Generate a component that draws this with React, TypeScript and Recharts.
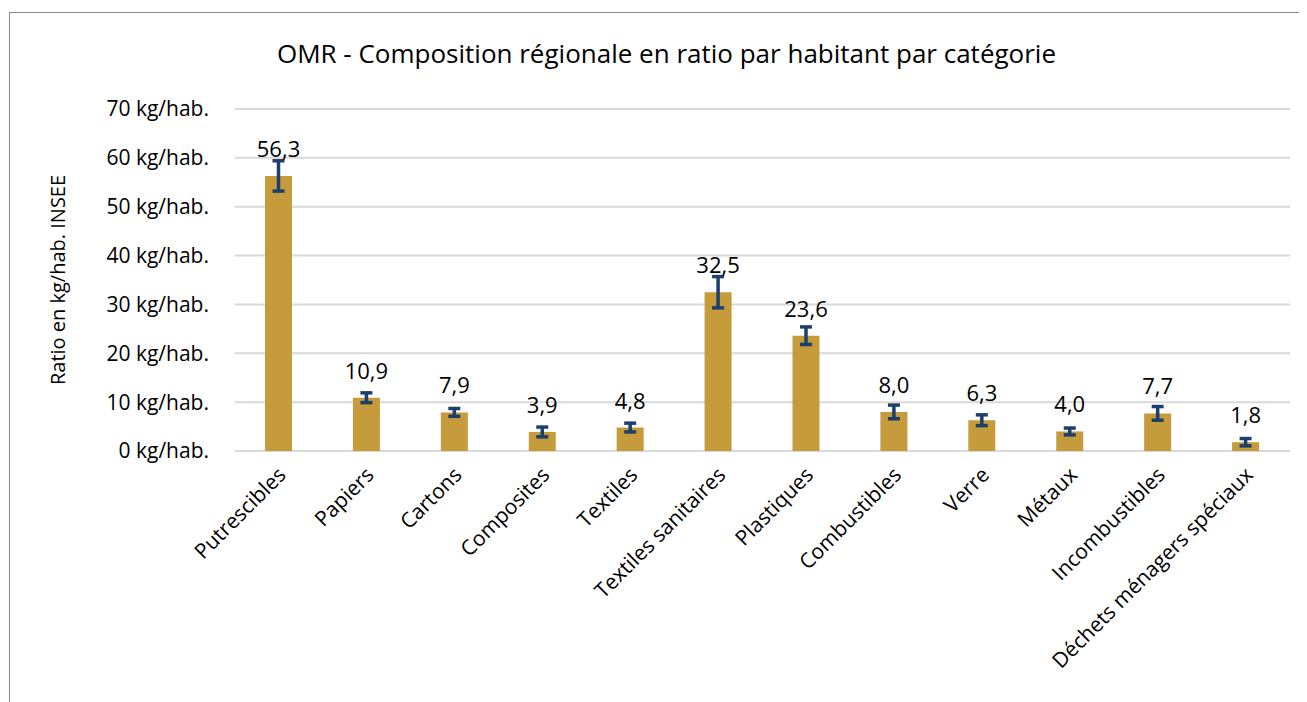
import React from "react";
import { Bar, BarChart, CartesianGrid, ErrorBar, LabelList, XAxis, YAxis } from "recharts";

const categories = [
  "Putrescibles",
  "Papiers",
  "Cartons",
  "Composites",
  "Textiles",
  "Textiles sanitaires",
  "Plastiques",
  "Combustibles",
  "Verre",
  "Métaux",
  "Incombustibles",
  "Déchets ménagers spéciaux"
];
const ratios = [56.3, 10.9, 7.9, 3.9, 4.8, 32.5, 23.6, 8.0, 6.3, 4.0, 7.7, 1.8];
const errors = [3.1, 1.0, 0.8, 1.0, 0.9, 3.2, 1.8, 1.4, 1.1, 0.7, 1.4, 0.75];
const yTicks = [0, 10, 20, 30, 40, 50, 60, 70];

const data = categories.map((name, i) => ({ name, value: ratios[i], err: errors[i] }));

const FONT = "'Open Sans', Lato, sans-serif";

function XTick({ x, y, payload }: any) {
  return (
    <g transform={`translate(${x + 4},${y + 13})`}>
      <text
        fill="#000"
        fontFamily={FONT}
        fontSize={21}
        textAnchor="end"
        transform="rotate(-45)"
        dy={6}
      >
        {payload.value}
      </text>
    </g>
  );
}

export default function App() {
  return (
    <div
      style={{
        position: "relative",
        width: 1290,
        height: 700,
        marginTop: 4,
        marginLeft: 1,
        border: "1.5px solid #8a8a8a",
        background: "#fff",
        fontFamily: FONT
      }}
    >
      <div
        style={{
          position: "absolute",
          left: 0,
          width: 1313,
          top: 22,
          textAlign: "center",
          fontSize: 26,
          color: "#000"
        }}
      >
        OMR - Composition régionale en ratio par habitant par catégorie
      </div>
      <BarChart
        width={1290}
        height={700}
        data={data}
        margin={{ top: 96, right: 10, bottom: 62, left: 0 }}
        barCategoryGap="0%"
      >
        <CartesianGrid stroke="#d9d9d9" strokeWidth={2} vertical={false} />
        <XAxis
          dataKey="name"
          axisLine={false}
          tickLine={false}
          interval={0}
          tick={<XTick />}
          height={200}
        />
        <YAxis
          domain={[0, 70]}
          ticks={yTicks}
          axisLine={false}
          tickLine={false}
          width={225}
          tickMargin={20}
          tickFormatter={(v: number) => `${v} kg/hab.`}
          tick={{ fill: "#000", fontSize: 21, fontFamily: FONT }}
          label={{
            value: "Ratio en kg/hab. INSEE",
            angle: -90,
            position: "insideLeft",
            offset: 48,
            style: { textAnchor: "middle", fill: "#000", fontSize: 20, fontFamily: FONT }
          }}
        />
        <Bar dataKey="value" fill="#c59b3b" barSize={27} isAnimationActive={false}>
          <ErrorBar dataKey="err" stroke="#1d3f6e" strokeWidth={3.5} width={6} direction="y" />
          <LabelList
            dataKey="value"
            position="top"
            offset={19}
            formatter={(v: any) => Number(v).toFixed(1).replace(".", ",")}
            style={{ fill: "#000", fontSize: 22, fontFamily: FONT }}
          />
        </Bar>
      </BarChart>
    </div>
  );
}
